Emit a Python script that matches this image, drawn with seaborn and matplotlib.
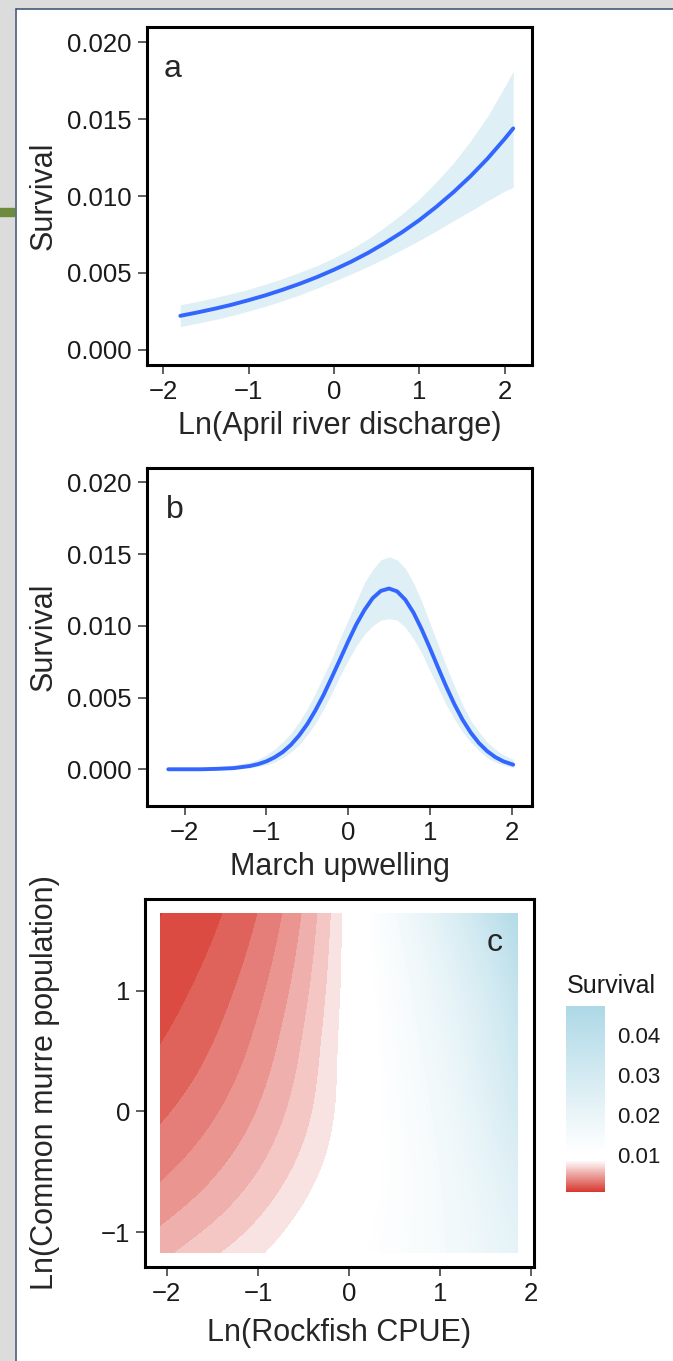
import numpy as np
import matplotlib
matplotlib.use("Agg")
import matplotlib.pyplot as plt
import matplotlib.tri as mtri
import seaborn as sns
from matplotlib.colors import LinearSegmentedColormap, Normalize
from matplotlib.cm import ScalarMappable
from matplotlib.patches import Rectangle
from matplotlib.lines import Line2D
from matplotlib.ticker import FormatStrFormatter

# -----------------------------------
# Panel a: survival vs Ln(April river discharge)
# -----------------------------------
discharge_x = [-1.8, -1.6, -1.4, -1.2, -1.0, -0.8, -0.6, -0.4, -0.2, 0.0, 0.2,
               0.4, 0.6, 0.8, 1.0, 1.2, 1.4, 1.6, 1.8, 2.0, 2.1]
discharge_fit = [0.00220, 0.00242, 0.00266, 0.00292, 0.00322, 0.00354, 0.00390, 0.00429, 0.00472, 0.00520, 0.00572,
                 0.00630, 0.00695, 0.00765, 0.00843, 0.00930, 0.01025, 0.01129, 0.01244, 0.01372, 0.01440]
discharge_hi = [0.00291, 0.00314, 0.00338, 0.00364, 0.00393, 0.00426, 0.00462, 0.00504, 0.00546, 0.00598, 0.00655,
                0.00721, 0.00799, 0.00884, 0.00980, 0.01092, 0.01215, 0.01358, 0.01519, 0.01710, 0.01813]
discharge_lo = [0.00150, 0.00172, 0.00195, 0.00221, 0.00251, 0.00283, 0.00319, 0.00357, 0.00400, 0.00445, 0.00492,
                0.00542, 0.00595, 0.00652, 0.00711, 0.00773, 0.00839, 0.00902, 0.00969, 0.01032, 0.01056]

# -----------------------------------
# Panel b: survival vs March upwelling
# -----------------------------------
upwell_x = [-2.2, -2.0, -1.8, -1.6, -1.4, -1.2, -1.1, -1.0, -0.9, -0.8, -0.7, -0.6, -0.5, -0.4, -0.3,
            -0.2, -0.1, 0.0, 0.1, 0.2, 0.3, 0.4, 0.5, 0.6, 0.7, 0.8, 0.9, 1.0, 1.1, 1.2, 1.3,
            1.4, 1.5, 1.6, 1.7, 1.8, 1.9, 2.02]
upwell_fit = [0.0, 0.0, 0.0, 0.00003, 0.00008, 0.00023, 0.00036, 0.00055, 0.00083, 0.0012, 0.0017, 0.00235,
              0.00314, 0.0041, 0.00518, 0.0064, 0.00764, 0.0089, 0.01009, 0.0111, 0.01192, 0.01243, 0.0126,
              0.0124, 0.01182, 0.01092, 0.00976, 0.00846, 0.0071, 0.00577, 0.00454, 0.00346, 0.00256,
              0.00183, 0.00127, 0.00085, 0.00055, 0.00032]
upwell_hi = [0.0001, 0.0001, 0.0001, 0.0002, 0.0003, 0.0005, 0.0007, 0.0010, 0.0014, 0.0019, 0.0025, 0.0033,
             0.0042, 0.0053, 0.0065, 0.0077, 0.0091, 0.0104, 0.0117, 0.0130, 0.0139, 0.0146, 0.0148,
             0.0146, 0.0140, 0.0130, 0.0117, 0.0102, 0.0087, 0.0072, 0.0058, 0.0045, 0.0034,
             0.0026, 0.0019, 0.0014, 0.0010, 0.0007]
upwell_lo = [0.0, 0.0, 0.0, 0.0, 0.0, 0.0001, 0.0002, 0.0003, 0.0005, 0.0008, 0.0012, 0.0017,
             0.0024, 0.0032, 0.0042, 0.0053, 0.0065, 0.0076, 0.0086, 0.0094, 0.0100, 0.0104, 0.0105,
             0.0104, 0.0099, 0.0091, 0.0081, 0.0069, 0.0057, 0.0045, 0.0035, 0.0026, 0.0019,
             0.0013, 0.0008, 0.0005, 0.0003, 0.0001]

# -----------------------------------
# Panel c: survival surface (rockfish CPUE x murre population)
# -----------------------------------
rock_x = [-2.07, -1.5, -1.0, -0.5, 0.0, 0.5, 1.0, 1.5, 1.85]
murre_y = [-1.17, -0.5, 0.0, 0.5, 1.0, 1.64]
surv_m117 = [0.00570, 0.00680, 0.00780, 0.00900, 0.01040, 0.0122, 0.0150, 0.0190, 0.0220]
surv_m050 = [0.00379, 0.00483, 0.00599, 0.00741, 0.00918, 0.0118, 0.0155, 0.0210, 0.0260]
surv_p000 = [0.00280, 0.00383, 0.00504, 0.00664, 0.00874, 0.0120, 0.0165, 0.0235, 0.0300]
surv_p050 = [0.00206, 0.00306, 0.00434, 0.00615, 0.00870, 0.0125, 0.0180, 0.0260, 0.0335]
surv_p100 = [0.00152, 0.00245, 0.00373, 0.00567, 0.00863, 0.0132, 0.0200, 0.0290, 0.0375]
surv_p164 = [0.00097, 0.00177, 0.00300, 0.00508, 0.00862, 0.0150, 0.0240, 0.0355, 0.0450]

# colour scale stops (survival value -> colour)
scale_vals = [0.00075, 0.0086, 0.0105, 0.0473]
scale_cols = ["#D7382F", "#FFFFFF", "#FFFFFF", "#ADD8E6"]
legend_ticks = [0.01, 0.02, 0.03, 0.04]

# -----------------------------------
# Style
# -----------------------------------
sns.set_theme(style="ticks")
plt.rcParams["font.family"] = ["Liberation Sans", "DejaVu Sans"]

LINE = "#3366FF"
BAND = "#DEEFF5"
TICK_KW = dict(direction="out", length=6.3, width=1.1, color="#333333",
               labelsize=18.5, pad=4.5, labelcolor="#1A1A1A")


def style_axes(ax):
    for s in ax.spines.values():
        s.set_linewidth(2.2)
        s.set_color("black")
        s.set_zorder(5)
    ax.tick_params(**TICK_KW)


fig = plt.figure(figsize=(6.73, 13.61), dpi=100)
W, H = 673.0, 1361.0

# screenshot frame
fig.add_artist(Rectangle((0, 0), 14 / W, 1, transform=fig.transFigure, color="#DCDCDC", zorder=0))
fig.add_artist(Rectangle((0, 1 - 8 / H), 1, 8 / H, transform=fig.transFigure, color="#DCDCDC", zorder=0))
fig.add_artist(Rectangle((0, 1 - 216 / H), 14 / W, 8 / H, transform=fig.transFigure, color="#6E8B3D", zorder=1))
fig.add_artist(Line2D([15.5 / W, 15.5 / W], [0, 1 - 8.5 / H], transform=fig.transFigure, color="#34506E", lw=1.1))
fig.add_artist(Line2D([15.5 / W, 1], [1 - 8.5 / H, 1 - 8.5 / H], transform=fig.transFigure, color="#34506E", lw=1.1))

# -----------------------------------
# Panel a
# -----------------------------------
ax_a = fig.add_axes([147 / W, 1 - 365 / H, 385 / W, 338 / H])
ax_a.fill_between(discharge_x, discharge_lo, discharge_hi, color=BAND, lw=0)
sns.lineplot(x=discharge_x, y=discharge_fit, ax=ax_a, color=LINE, linewidth=2.8)
ax_a.set_xlim(-2.19, 2.32)
ax_a.set_ylim(-0.001, 0.021)
ax_a.set_xticks([-2, -1, 0, 1, 2])
ax_a.set_yticks([0.0, 0.005, 0.010, 0.015, 0.020])
ax_a.yaxis.set_major_formatter(FormatStrFormatter("%.3f"))
ax_a.set_xlabel("Ln(April river discharge)", fontsize=22, va="top")
ax_a.set_ylabel("Survival", fontsize=22)
ax_a.xaxis.set_label_coords(0.5, -0.136)
ax_a.yaxis.set_label_coords(-0.230, 0.5)
ax_a.text(0.0675, 0.877, "a", transform=ax_a.transAxes, fontsize=23, ha="center", va="center")
style_axes(ax_a)

# -----------------------------------
# Panel b
# -----------------------------------
ax_b = fig.add_axes([147 / W, 1 - 806 / H, 385 / W, 338 / H])
ax_b.fill_between(upwell_x, upwell_lo, upwell_hi, color=BAND, lw=0)
sns.lineplot(x=upwell_x, y=upwell_fit, ax=ax_b, color=LINE, linewidth=2.8)
ax_b.set_xlim(-2.46, 2.25)
ax_b.set_ylim(-0.00256, 0.021)
ax_b.set_xticks([-2, -1, 0, 1, 2])
ax_b.set_yticks([0.0, 0.005, 0.010, 0.015, 0.020])
ax_b.yaxis.set_major_formatter(FormatStrFormatter("%.3f"))
ax_b.set_xlabel("March upwelling", fontsize=22, va="top")
ax_b.set_ylabel("Survival", fontsize=22)
ax_b.xaxis.set_label_coords(0.5, -0.135)
ax_b.yaxis.set_label_coords(-0.230, 0.5)
ax_b.text(0.073, 0.876, "b", transform=ax_b.transAxes, fontsize=23, ha="center", va="center")
style_axes(ax_b)

# -----------------------------------
# Panel c
# -----------------------------------
cmap = LinearSegmentedColormap.from_list(
    "surv",
    [((v - scale_vals[0]) / (scale_vals[-1] - scale_vals[0]), c) for v, c in zip(scale_vals, scale_cols)],
)
norm = Normalize(vmin=scale_vals[0], vmax=scale_vals[-1])

# smooth the surface on the log scale, then back-transform
log_grid = np.log(np.array([surv_m117, surv_m050, surv_p000, surv_p050, surv_p100, surv_p164]))
gx, gy = np.meshgrid(rock_x, murre_y)
tri = mtri.Triangulation(gx.ravel(), gy.ravel())
interp = mtri.CubicTriInterpolator(tri, log_grid.ravel(), kind="min_E")
tri_f, logz_f = mtri.UniformTriRefiner(tri).refine_field(log_grid.ravel(), triinterpolator=interp, subdiv=4)
z_f = np.exp(logz_f)

# banded red part, one plain white band, then fine steps for the blue gradient
levels = np.concatenate([[0.0005], np.arange(0.001, 0.0081, 0.001), np.arange(0.0105, 0.0481, 0.0005)])

ax_c = fig.add_axes([145 / W, 1 - 1267 / H, 389 / W, 368 / H])
ax_c.tricontourf(tri_f, z_f, levels=levels, cmap=cmap, norm=norm)
ax_c.set_xlim(-2.24, 2.03)
ax_c.set_ylim(-1.29, 1.76)
ax_c.set_xticks([-2, -1, 0, 1, 2])
ax_c.set_yticks([-1, 0, 1])
ax_c.set_xlabel("Ln(Rockfish CPUE)", fontsize=22, va="top")
ax_c.set_ylabel("Ln(Common murre population)", fontsize=22)
ax_c.xaxis.set_label_coords(0.5, -0.139)
ax_c.yaxis.set_label_coords(-0.2175, 0.5)
ax_c.text(0.90, 0.880, "c", transform=ax_c.transAxes, fontsize=23, ha="center", va="center")
style_axes(ax_c)

# legend colour bar
cax = fig.add_axes([566 / W, 1 - 1192 / H, 39 / W, 186 / H])
cbar = fig.colorbar(ScalarMappable(norm=norm, cmap=cmap), cax=cax, ticks=legend_ticks)
cbar.outline.set_visible(False)
cbar.ax.set_yticklabels([f"{t:.2f}" for t in legend_ticks])
cax.tick_params(direction="in", length=7, width=1.1, color="white", left=True, right=True,
                labelsize=16, labelcolor="#1A1A1A", pad=9)
fig.text(567 / W, 1 - 993 / H, "Survival", fontsize=18, ha="left", va="baseline", color="#1A1A1A")

fig.savefig("out.png", dpi=100)
